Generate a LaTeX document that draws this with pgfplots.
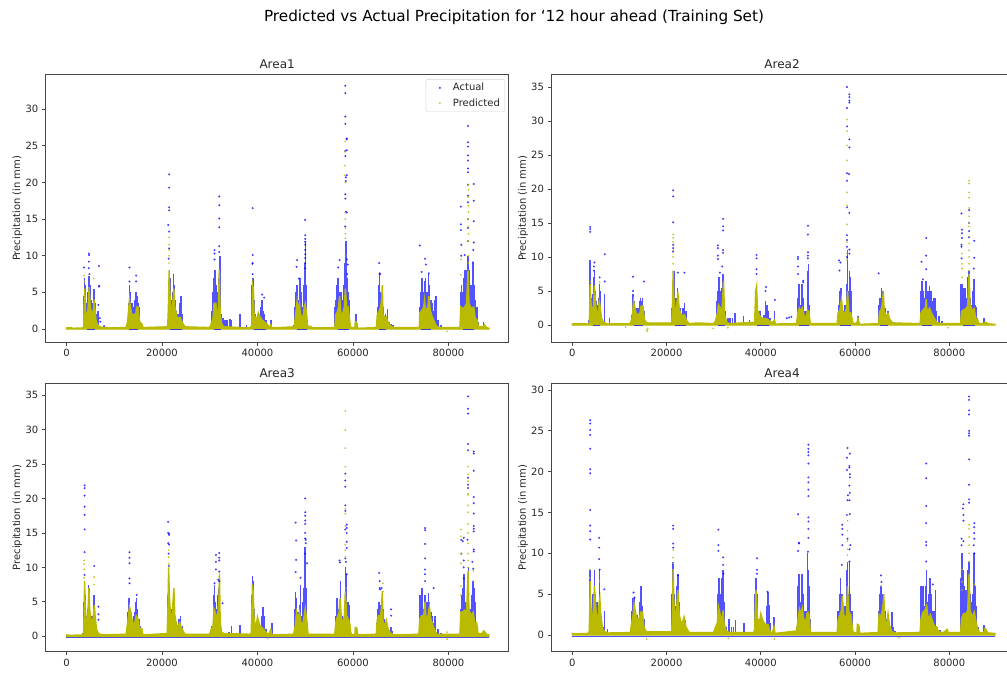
\documentclass[border=0pt]{standalone}
\usepackage{pgfplots}
\pgfplotsset{compat=1.18}
\usepackage{fontspec}
\setmainfont{DejaVu Sans}
\definecolor{predc}{HTML}{BABA00}
\definecolor{inkc}{HTML}{262626}
\pgfplotsset{
  panel/.style={
    scale only axis, width=#1, height=268pt, anchor=south west,
    axis line style={draw=inkc!85, line width=1pt},
    tick style={draw=inkc!85, line width=.8pt},
    major tick length=3.5pt,
    xtick pos=bottom, ytick pos=left, tick align=outside,
    xtick={0,20000,40000,60000,80000},
    scaled ticks=false,
    /pgf/number format/.cd, 1000 sep={}, assume math mode=true, /pgfplots/.cd,
    tick label style={font=\fontsize{10}{12}\selectfont, text=inkc},
    ylabel={Precipitation (in mm)},
    every axis y label/.style={at={(axis description cs:-0.0604,0.5)},rotate=90,anchor=center,font=\fontsize{10}{12}\selectfont,text=inkc},
    title style={at={(axis description cs:0.5,1)},anchor=south,yshift=-4pt,font=\fontsize{12}{14}\selectfont,text=inkc},
    unbounded coords=jump,
    clip=true,
    legend image code/.code={\path[draw=none,fill=none] (0,-2pt) rectangle (22pt,2pt); \path[##1,draw=none] plot coordinates {(11pt,0)};},
  },
  act/.style={color=blue, only marks, mark=*, mark size=.85pt, mark options={draw=none, fill=blue, opacity=.6}},
  pre/.style={color=predc, only marks, mark=*, mark size=.7pt, mark options={draw=none, fill=predc, opacity=.7}},
  dense/.style={color=blue, ycomb, no markers, draw=blue, line width=1.6pt, opacity=.68, forget plot},
  env/.style={color=predc, no markers, draw=predc, fill=predc, line width=1.4pt, forget plot},
}
\newcommand{\basesegs}{\addplot[color=blue, opacity=.7, no markers, line width=.7pt, forget plot] coordinates {(4300,-.1)(5900,-.1)(6000,nan)(13000,-.1)(15000,-.1)(15100,nan)(21700,-.1)(24200,-.1)(24300,nan)(30900,-.1)(32300,-.1)(32400,nan)(39200,-.1)(41800,-.1)(41900,nan)(48200,-.1)(50300,-.1)(50400,nan)(56800,-.1)(59200,-.1)(59300,nan)(65400,-.1)(67000,-.1)(67100,nan)(74200,-.1)(76300,-.1)(76400,nan)(83000,-.1)(85400,-.1)};}
\begin{document}
\begin{tikzpicture}[x=1pt,y=1pt]
\node[font=\fontsize{15.25}{18}\selectfont, text=black] at (514,655.5) {Predicted vs Actual Precipitation for `12 hour ahead (Training Set)};
% ---------- Area1
\begin{axis}[panel=463.7pt, at={(45.3pt,330.7pt)}, title={Area1}, xmin=-4430, xmax=92680, ymin=-1.81, ymax=34.77,
  legend cell align=left,
  legend style={at={(axis description cs:0.9915,0.982)},anchor=north east,draw=black!18,rounded corners=2pt,font=\fontsize{10}{12}\selectfont,text=inkc,fill=white,fill opacity=.85,text opacity=1,row sep=2pt,inner xsep=3pt,inner ysep=2pt}]
\addplot[dense] coordinates {(3700,4.5)(3800,7)(3900,6)(4000,5)(4100,3)(4300,3.5)(4500,5)(4700,7.3)(4800,7)(4900,6)(5000,5)(5200,4)(5400,3)(5600,3.5)(5800,5.5)(6000,3.5)(6200,2)(6600,2.5)
(13000,3.5)(13200,6)(13400,5)(13600,3.5)(13800,3.5)(14000,3)(14200,3)(14400,4)(14600,5)(14800,4.5)(15000,3.5)(15200,3)
(21400,6)(21600,8)(21800,7)(22000,4)(22200,5)(22400,7.5)(22600,6)(22800,4)(23000,2.5)(23400,2)(23800,3.5)(24000,4.5)(24200,2)
(30500,2.5)(30700,5)(30900,7)(31100,8)(31300,6)(31500,5)(31700,5)(31900,7)(32100,10)(32300,4)(32500,2)(32800,1.5)(33200,1.3)(33600,1.2)(34200,1.4)(34600,1.2)(36300,2)(37700,.6)
(38900,6)(39100,7)(39300,4)(39600,2)(40000,2)(40400,1.5)(40800,3)(41000,4)(41200,2.5)(41500,2)(41800,1.3)(42800,1.3)
(47600,.6)(47900,3)(48100,5)(48300,6)(48500,4)(48700,4)(48900,7)(49100,5)(49300,3)(49500,3)(49700,6)(49900,9)(50100,12)(50300,6)
(56300,3)(56500,4)(56700,6)(56900,7)(57100,5)(57300,5)(57500,5)(57700,3)(57900,4)(58100,6)(58300,9)(58500,12)(58700,7)(58900,5)(59100,5)(59300,4)(60600,2)
(65200,3)(65400,6)(65600,7.5)(65800,5)(66000,4)(66200,5.5)(66400,3)(66800,2)(67200,2.8)(67600,1)(68000,.7)(68400,.6)
(74000,3)(74200,5)(74400,7)(74600,4)(74800,5)(75000,6.5)(75200,7)(75400,5)(75600,5)(75800,7.5)(76000,6)(76200,4)(76400,4)(76600,3.5)(76800,2.5)(77000,2.5)(77200,4)(77400,4.5)(77800,1.3)(78500,.5)
(82500,5)(82700,6)(82900,5)(83100,4)(83300,7)(83500,8)(83700,6)(83900,8)(84100,10)(84300,8)(84500,6)(84700,5)(84900,6)(85100,9)(85300,6)(85500,4)(85700,4)(86000,3)(86300,1)(87300,1)};
\addplot[act] coordinates {(3700,8.4)(4700,10.3)(4750,10.1)(4700,9.2)(4650,8.3)(4800,7.5)(6800,8.6)(6900,5.9)(6800,5.8)(6700,3.3)(7000,1.5)(7100,1)(7900,.4)
(13200,8.4)(13200,6.5)(14600,7.3)(14600,6.5)
(21300,14.2)(21500,19.3)(21500,21.1)(21500,16.6)(21500,16.2)(21500,13.3)(21400,9.6)(21500,11)
(31000,10.8)(31000,10.3)(31000,9.5)(32000,18.1)(32000,16.9)(32000,15.1)(32000,13.9)(32000,11.3)(32000,10.5)
(39000,16.5)(39000,10.1)(39000,9)(38950,8.9)(39000,7.5)(41000,4.7)(41400,4.3)
(48300,9.4)(48200,8.5)(48700,6.9)(50000,14.9)(50000,12.8)(50000,12.3)(50000,11.9)(50000,11.5)(50000,10.8)(50000,10.2)(50000,9.7)(50000,9)(50000,8.3)
(57200,9.4)(56900,8.4)(58400,33.2)(58400,32.2)(58400,29)(58400,28)(58400,23.6)(58400,24.3)(58700,26)(58700,25.9)(58700,24.4)(58500,20.2)(58500,20.7)(58700,21)(58400,18.4)(58400,17.8)(58500,16)(58700,15.9)(58400,14)(58700,9.5)(58900,8.8)(58800,7.5)
(65500,9)(65600,7.6)(65700,7.5)
(74000,11.4)(74400,7.8)(75100,9.6)(75300,8.8)(75900,7.6)
(82600,16.7)(82600,14.3)(82600,13.5)(82700,11.5)(82700,10)(83400,10.1)(84100,27.7)(84100,25.5)(84100,24.9)(84100,23.7)(84100,23)(84100,21.9)(84100,21.4)(84100,19.7)(84100,18.2)(84100,17.3)(84100,15)(84100,13.8)(84100,12)(85300,19.8)(85300,17.5)(85300,14.7)(85300,11.8)(85200,10.8)(85100,9.1)};
\addlegendentry{Actual}
\addplot[env] coordinates {(0,.15)(1000,.2)(1300,.1)(3400,.15)(3600,.3)(3700,3)(3800,5.5)(3900,4.5)(4000,2.5)(4200,1.5)(4400,2)(4600,3.5)(4750,5.7)(4850,4.5)(5000,3)(5300,2)(5600,2.5)(5800,4)(5950,2.8)(6200,1.2)(6500,.6)(7000,.3)(8000,.15)
(12500,.2)(12800,1)(13000,2.5)(13200,4)(13400,3)(13700,2)(14500,2)(14700,3)(15000,3)(15300,1)(15800,.7)(16000,.2)
(21200,.3)(21350,3)(21500,8)(21650,5)(21900,2.5)(22200,3)(22500,5.5)(22700,3)(23200,1.5)(23800,1.6)(24200,1)(24800,.3)
(30000,.2)(30300,.7)(30700,1.5)(30900,3.5)(31300,3.5)(31500,2)(31800,2)(32000,8)(32200,2)(32500,.7)(33000,.3)(38500,.15)
(38800,.5)(39000,6)(39150,5.5)(39300,2)(39800,1.2)(40200,2.2)(40500,1.7)(41000,1.2)(42000,.7)(42500,.2)(42800,.6)(43000,.15)
(47700,.3)(48000,2)(48300,3.8)(48500,2.5)(48800,3.5)(49000,2)(49500,1.5)(49800,3)(50000,3.5)(50300,2)(50500,.3)(51000,.4)(51500,.15)
(56200,.2)(56400,2)(56700,2.3)(57000,3)(57200,4.5)(57500,2)(57800,2)(58200,3)(58400,5.5)(58700,3)(59000,3)(59300,1.2)(59500,.2)(60400,.2)(60500,1)(60800,.9)(61000,.1)
(64900,.2)(65100,2)(65400,2.3)(65800,3)(66000,4)(66150,6)(66300,2)(66700,1.5)(67000,1.6)(67300,1)(67800,.5)(68500,.2)
(73900,.2)(74000,2.2)(74400,2.5)(74800,3)(75000,4)(75200,2.5)(75700,3)(75900,4.5)(76200,2.5)(76700,1.5)(77200,.8)(77600,.3)(78500,.2)
(82400,.2)(82600,3)(82900,2.8)(83400,3)(83800,3.5)(84100,8)(84300,3.5)(84800,2.8)(85300,3)(85600,1.5)(86000,1.2)(86300,.3)(87300,.3)(87500,.6)(88000,.2)(88500,.1)} \closedcycle;
\basesegs
\addplot[pre] coordinates {(3700,7.3)(3800,6.5)(5700,6.9)(21500,12.5)(21500,11.5)(21500,10.8)(21500,10)(21500,9)(32000,8)(58400,25.6)(58300,24.2)(58300,22.3)(58300,21)(58400,20)(58400,15.9)(58400,15)(58400,13.8)(58400,13)(58400,12.4)(58400,10)(84200,19.7)(84200,19)(84200,18)(84200,16.8)(84200,16)(84200,15)(84200,14)(84200,13)(84200,12)(84200,10)(84200,9)(82600,9.5)(82600,7.4)(79700,-.3)};
\addlegendentry{Predicted}
\end{axis}
% ---------- Area2
\begin{axis}[panel=462pt, at={(551pt,330.7pt)}, title={Area2}, xmin=-4520, xmax=93520, ymin=-2.54, ymax=36.86, ytick={0,5,10,15,20,25,30,35}]
\addplot[dense] coordinates {(3600,.8)(3700,4)(3800,9.5)(3900,7)(4000,4)(4200,3.5)(4400,4.5)(4600,7)(4700,8)(4800,5)(5000,3.5)(5300,3)(5600,4)(5800,6)(5900,5)(6200,1)(6800,4.5)(7900,1)
(12700,1.5)(12900,4.5)(13100,3.5)(13300,2.5)(13600,2.5)(14000,2.5)(14300,3.5)(14500,4)(14700,3.5)(14900,4)(15200,2)
(21200,2.5)(21400,6)(21600,8)(21800,4)(22100,4)(22300,5.5)(22500,4)(23000,2.5)(23500,2.5)(23800,3.3)(24100,2)
(30700,3.5)(30900,5)(31100,7)(31300,5)(31500,4)(31700,5.5)(31900,7.5)(32100,7.5)(32400,2)(33000,1)(33500,1)(34000,1)(34500,1.8)(36300,1.3)(37600,.8)(38200,.3)
(38900,5)(39100,6)(39300,3)(39800,2)(40300,1)(40700,1.5)(41000,3.5)(41300,3)(41600,2)(42000,1)(42900,2)
(47800,4)(48000,6)(48200,6)(48400,3)(48700,6)(48900,4)(49200,2)(49600,2)(49900,8)(50100,9)(50300,3)
(56500,3)(56800,5)(57000,5.5)(57300,3)(57600,2)(57900,3)(58200,6)(58400,11)(58600,5)(58800,8)(59000,7)(59200,5)(60600,1.3)
(65000,3)(65300,4)(65600,5.5)(65800,5)(66000,3.5)(66400,2.5)(67000,2)(67200,1.2)(67800,.5)(68400,.4)
(74000,5)(74200,6.5)(74400,5)(74700,4)(75000,6.5)(75200,5)(75500,5)(75800,5.8)(76100,5)(76400,3.5)(76700,4)(77000,4)(77300,2)(77800,1.3)(78500,.6)
(82500,6)(82700,6)(82900,5)(83100,5.5)(83300,5.5)(83600,4)(84000,7)(84200,8)(84500,4)(84800,3)(85000,5)(85200,6.8)(85400,3)(85700,2.7)(86000,1)(87300,1)};
\addplot[act] coordinates {(3800,14.4)(3800,14.1)(3800,13.7)(4700,9.2)(4600,8.6)(4600,8)(5800,7)(6900,10.4)(6900,6.4)
(12900,7.1)(12900,5)(15200,6.4)(21400,19.8)(21400,18.9)(21400,15.1)(21400,11.8)(21400,11.3)(21400,10.8)(22400,7.7)(23800,7.7)
(30900,11.7)(30900,11.3)(30900,10.2)(30900,9.7)(32000,15.6)(32000,14.5)(32000,13.9)(32000,11)(32000,10.6)(31300,7.7)(31800,8.6)
(39100,10.3)(39100,9.8)(39100,8.2)(39100,7.5)(41100,5.6)(41000,5)(43000,3.7)(45500,1)(46000,1.1)(46500,1.2)
(47900,10)(47900,9.7)(47900,8.6)(47900,7.5)(50000,14.6)(50000,13.3)(50000,10.7)(50000,10.2)(50000,9.8)(49000,6.3)(49000,6.5)
(56600,9.5)(56900,9.2)(56700,8)(58300,35)(58300,31.9)(58300,29.2)(58800,33.9)(58800,33.5)(58800,33)(58800,32.7)(58800,27.3)(58800,26.1)(58300,22.3)(58700,22.2)(58300,21.2)(58300,17.3)(58800,16.5)(58300,13.2)(58300,12.5)(58300,11.5)(58800,11.1)(58800,10.5)(58300,10)
(65000,7.6)(75100,12.8)(75100,10.2)(74100,9.3)(75100,8.2)(74400,6.7)
(82600,16.4)(82700,14)(82700,13.5)(82700,12.8)(82600,11.8)(82600,11.5)(84200,16.9)(84200,15)(84200,13.8)(84200,12.9)(85300,12.4)(85300,9.9)(82600,9.8)(85200,8.3)};
\addplot[env] coordinates {(0,.15)(1000,.2)(3400,.15)(3600,.3)(3700,2.5)(3800,6)(3900,4)(4100,2)(4300,1.8)(4500,3)(4700,5.7)(4850,4)(5100,2)(5500,2)(5700,3.5)(5850,3)(6200,1)(6600,.4)(7500,.15)
(12300,.2)(12600,.8)(12800,1.8)(13000,3.5)(13300,2.5)(13600,1.6)(14300,1.6)(14600,2.8)(15000,2.8)(15300,.8)(15800,.3)
(21100,.3)(21250,3)(21400,8)(21550,4)(21800,2.3)(22100,2.5)(22400,4.8)(22700,2.3)(23200,1.4)(23800,1.5)(24200,.7)(24800,.2)
(26700,.3)(30000,.2)(30400,.6)(30800,1.8)(31000,3)(31400,2.5)(31700,1.8)(31950,4.5)(32100,6.5)(32300,1.5)(32700,.5)(33200,.2)
(38700,.4)(38900,5)(39100,5.7)(39300,2.2)(39800,1.3)(40300,1)(41000,1)(41800,.7)(42400,.3)(42900,.7)(43100,.15)
(47600,.2)(47900,2)(48200,2.5)(48500,2)(48800,2.5)(49200,1.4)(49600,1)(49900,2.2)(50200,2)(50500,.2)
(56200,.2)(56400,1.8)(56800,2.2)(57100,3.8)(57400,2)(57700,1.5)(58200,2.5)(58400,5)(58700,1.8)(59100,1.8)(59400,.8)(59600,.2)(60400,.3)(60600,1)(60800,.5)(61000,.1)
(65000,.2)(65200,2)(65500,2.2)(65800,3.2)(66000,5)(66200,2)(66600,1.3)(67000,1.7)(67400,.8)(68000,.3)
(73800,.2)(74000,1.8)(74500,2.3)(74900,2.5)(75100,3.8)(75300,1.8)(75800,2.5)(76200,1.8)(76800,1)(77300,.4)(78000,.2)
(82400,.2)(82600,2)(83000,2.2)(83500,2.4)(83900,2.8)(84200,7.5)(84400,3)(84900,2.2)(85300,2.4)(85600,1)(86000,.8)(86300,.2)(87300,.2)(87600,.4)(88500,.15)(89700,.1)} \closedcycle;
\basesegs
\addplot[pre] coordinates {(3800,6.4)(4700,5.7)(5800,6.3)(21400,13.3)(21400,12.8)(21400,12.2)(21400,11)(21400,10)(21400,9)(58300,30.2)(58300,28.5)(58300,26.4)(58300,24.2)(58300,19.5)(58300,17.6)(58300,14.8)(58300,12.2)(58300,10.5)(58300,9.6)
(84200,21.2)(84200,20.8)(84200,19.5)(84200,18.7)(84200,17.2)(84200,16)(84200,15)(84200,14.5)(84200,13)(84200,12)(84200,11)(84200,10)(84200,9)(82700,10.5)(82700,9)(82700,8.3)(82700,7)(84200,8)(15800,-.7)(15900,-.9)(29900,-.5)(79700,-.4)(16000,-.5)(11300,-.3)(33000,-.4)};
\end{axis}
% ---------- Area3
\begin{axis}[panel=463.7pt, at={(45.3pt,21.3pt)}, title={Area3}, xmin=-4430, xmax=92680, ymin=-2.23, ymax=36.64, ytick={0,5,10,15,20,25,30,35}]
\addplot[color=blue, opacity=.75, no markers, line width=.9pt, forget plot] coordinates {(0,-.15)(88500,-.15)};
\addplot[dense] coordinates {(3500,.5)(3600,1)(3700,5)(3800,7)(3900,6)(4100,3)(4400,4)(4600,7.5)(4700,7)(4900,3.5)(5200,3)(5500,3)(5800,6)(6000,3)(6400,.8)
(12900,3.5)(13100,5.5)(13300,4)(13600,2.5)(14000,3)(14300,3.5)(14500,5)(14700,5.5)(14900,4)(15300,2.5)(15500,1.5)
(21200,6)(21400,9)(21600,7)(21900,4)(22100,4)(22400,6.5)(22600,5)(23000,2)(23600,2.5)(23900,3)(24300,1.5)
(30000,.5)(30400,1.5)(30800,6)(31000,7.5)(31200,5)(31500,4)(31800,6)(32000,7)(32200,3)(32500,1)(33000,.5)(34000,.6)(34600,1.5)(36300,1.7)
(38800,6)(39000,8.7)(39100,8)(39300,4)(39700,1.5)(40000,2)(40400,1.5)(40800,1.5)(41000,3)(41200,4.3)(41400,3)(41800,1)(43000,2)
(47800,4)(48000,6.5)(48200,5.5)(48500,3.5)(48800,4.5)(49000,7.5)(49300,3)(49600,5)(49800,7)(50000,13)(50100,11)(50300,7)(50500,2)
(56400,3)(56700,5.5)(56900,4)(57200,4)(57400,8)(57700,3)(58200,5)(58400,10)(58600,9)(58800,5)(59000,5)(59200,4.5)
(65000,2)(65300,4)(65500,5)(65700,4.5)(66000,3)(66300,4)(66600,2.5)(67000,2)(67200,1.5)(68000,1.3)(68200,.8)
(74000,6)(74200,6)(74400,7)(74600,4)(74900,4)(75100,6)(75300,5)(75600,5)(75800,6.3)(76000,5)(76300,3.5)(76600,3)(76900,2)(77200,3)(77800,1)(78500,.5)
(82500,4)(82800,6)(83000,7)(83200,9)(83400,6)(83600,5)(84000,6)(84200,10)(84400,4)(84700,4)(84900,6)(85100,8)(85300,7)(85500,5)(85700,2.7)(86000,1)(87500,.8)};
\addplot[act] coordinates {(3800,21.9)(3800,21.5)(3800,20.4)(3800,18.8)(3800,17.6)(3800,15.5)(3800,12.2)(3800,8.9)(5800,10.2)(6700,4.3)(6700,3.2)(6700,2.4)
(13200,12.2)(13200,11.4)(13200,10.6)(13200,8.4)(13200,7.7)(14700,6)
(21300,16.6)(21300,15)(21500,14.9)(21500,14.7)(21300,13.5)(21500,13.3)(21400,12)(21500,10.2)
(31000,7.7)(31300,11.8)(31300,10.8)(31300,9.7)(32000,12.1)(32000,11.4)(32000,11)(32000,9.4)(31800,8.2)(32000,8)(32700,4.8)
(48000,16.5)(48100,13.9)(48100,11.1)(48000,9.3)(49000,8.5)(50000,20)(50000,18)(50000,17.5)(50000,16.8)(50000,16.3)(50000,15)(50000,14.2)(50100,14)(50100,13.5)(50400,10.6)(50000,12)
(57200,11)(57300,10.7)(58400,23.6)(58400,22.6)(58400,21.7)(58400,19)(58400,18.2)(58400,15.5)(58700,16.2)(58700,15.7)(58700,15)(58700,13.7)(58700,12.8)(58400,11.3)(58500,10.8)(58700,9)
(65500,9.2)(65600,8)(65600,7)(66000,7)(65700,6.8)(68000,3.9)(68000,3)
(75100,15.7)(75100,15.4)(75100,13.4)(75100,11.3)(75100,9.7)(75100,9)(75100,8)(76900,7)
(84100,34.8)(84100,33)(84100,32.3)(84100,27.9)(84100,27)(85300,26.8)(85300,26.5)(85300,24)(84100,23)(84100,22)(84100,21.5)(85300,20.2)(85300,19.3)(85300,17.8)(85300,16)(85300,15.6)(85300,15.2)(83200,14.3)(82700,14)(83000,13.8)(84000,14)(85300,12.6)(85300,12.3)(83200,11)(83200,10)(82700,12)(85000,10.8)(85200,9.8)(83200,8.4)};
\addplot[env] coordinates {(0,.2)(1000,.15)(3400,.2)(3600,.5)(3700,3.5)(3800,8)(3900,5)(4100,2)(4300,2)(4500,3.5)(4700,7)(4850,4)(5100,2.5)(5500,2.3)(5700,3.5)(5850,4.5)(6000,3)(6300,1)(6700,.4)(7500,.2)
(12500,.3)(12800,2)(13000,3)(13200,4.3)(13500,3.5)(13800,2)(14300,2)(14600,3)(15000,2.5)(15300,1.2)(15800,1.1)(16000,.2)
(21100,.4)(21250,4)(21400,10)(21550,6)(21800,3)(22100,2.8)(22500,7)(22700,3)(23200,1.2)(23700,2)(24100,1.2)(24800,.3)
(30000,.3)(30300,1)(30700,1.5)(30900,4)(31300,3.2)(31600,2.5)(31900,5)(32050,9)(32200,2)(32500,.6)(33000,.4)(38500,.3)
(38700,.5)(38950,7.5)(39100,6.5)(39300,2.5)(39700,1.2)(40000,2.8)(40400,1.7)(40900,1.3)(41800,.6)(42300,.2)(42800,1)(43000,.2)
(47600,.3)(47900,1.5)(48200,3.5)(48500,2.5)(48800,3.5)(49100,2)(49500,1.8)(49800,3)(50000,4)(50300,2.5)(50600,.3)
(56200,.3)(56400,2)(56800,3)(57100,3.5)(57300,5.5)(57600,2.5)(57900,2)(58200,3)(58400,6.5)(58700,3)(59000,2.5)(59300,2)(59600,.3)(60400,.2)(60500,1.3)(60800,1.2)(61000,.2)
(64900,.3)(65100,2.5)(65400,3)(65800,3)(66000,4.5)(66150,6.5)(66300,2.2)(66700,1.5)(67000,2.3)(67300,1.2)(67800,.5)(68500,.2)
(73800,.3)(74000,2.5)(74400,3)(74800,3)(75100,5)(75300,2.5)(75700,3)(76000,4.3)(76300,2.5)(76800,1.5)(77300,.6)(77700,.3)(78500,.3)
(82400,.3)(82600,3.5)(82900,3.5)(83400,3.8)(83800,3.3)(84100,9.5)(84300,3.8)(84800,3)(85200,3.5)(85500,1.8)(85900,2)(86200,.4)(87000,.4)(87400,.8)(88000,.3)(88500,.2)} \closedcycle;
\addplot[pre] coordinates {(3700,11)(3700,10.5)(3700,9.7)(3700,8.5)(5800,8.6)(5800,7.5)(21400,12.5)(21400,11.5)(21400,10.5)(32000,9.2)(58400,32.7)(58400,29.9)(58400,27.3)(58400,24.6)(58400,18.5)(58400,17.8)(58400,16)(58400,13.3)(58400,12.5)(58400,11.5)(58500,7)(66300,7.7)(66300,6.5)(84100,24.6)(84100,23.5)(84100,22.5)(84100,20.7)(84100,20.5)(84100,19)(84100,18)(84100,16.3)(84100,15)(84100,13.5)(84100,12)(84100,11)(84100,10)(84100,9)(82600,15.5)(82600,14.5)(82600,12)(82600,10.6)(82600,7.3)(82600,6)(79700,-.4)(85200,9.5)(85300,8)(42100,-.3)(79700,.6)};
\end{axis}
% ---------- Area4
\begin{axis}[panel=462pt, at={(551pt,21.3pt)}, title={Area4}, xmin=-4520, xmax=93520, ymin=-2.04, ymax=30.77, ytick={0,5,10,15,20,25,30}]
\addplot[color=blue!70, no markers, line width=1.2pt, forget plot] coordinates {(0,-.15)(89700,-.15)};
\addplot[dense] coordinates {(3700,5)(3800,8)(3900,5)(4100,3)(4400,5)(4700,8)(4900,5)(5200,4)(5500,3)(5800,8)(6000,4)(6500,1)(6800,3)(7500,.7)
(12700,3)(12900,4.5)(13100,4.5)(13300,3)(13700,2.5)(14100,2)(14400,4)(14600,6)(14800,3.5)(15200,2)
(21200,5)(21400,9)(21600,5)(21900,3.5)(22200,6)(22400,7.5)(22600,4)(23000,2)(23600,2.2)(23900,1.8)(24200,1)
(30900,5)(31100,7)(31300,5)(31600,4)(31800,7)(32000,8)(32200,4)(32600,1)(33200,2)(33800,1)(34200,1)(34600,1.9)(36400,1.5)
(38800,5)(39000,7)(39200,5)(39500,2)(40000,2)(40700,1)(41200,3.5)(41500,5.3)(41700,3.7)(42000,1.5)(42800,2.2)
(47700,1)(47900,6)(48100,7.5)(48300,4)(48700,7.5)(48900,5)(49200,3)(49600,3)(49900,10)(50100,8)(50300,6)(50500,2)
(56400,3)(56700,5)(56900,7)(57200,5)(57500,3)(57900,3.5)(58200,8)(58400,9)(58600,5)(58800,9)(59000,5)(59300,3)
(65100,3)(65300,5)(65500,6)(65700,5)(66000,3.5)(66300,3)(66700,2)(67100,2)(67800,2.8)(68000,1)(68500,.5)
(74000,6)(74200,6)(74400,6)(74700,3.5)(75000,6)(75200,8)(75400,4)(75700,5)(75900,7)(76200,5)(76500,3)(76900,3)(77100,5.5)(77500,1)(78000,.6)
(82500,7)(82700,10)(82900,8)(83100,6)(83300,5)(83600,5.5)(84000,8)(84200,9)(84400,5)(84700,4)(85000,5)(85300,10)(85500,6)(85700,3.5)(86100,1)(87300,1.2)};
\addplot[act] coordinates {(3800,26.3)(3800,25.9)(3800,25.1)(3800,24.5)(3800,22.8)(3800,20.3)(3800,19.8)(3800,15.3)(3800,13.4)(3800,12.7)(3800,11.7)(5700,11.9)(5700,10.7)(5700,9.3)(5800,8)(6800,5.6)
(13000,5.2)(13200,4.6)(21400,13.4)(21400,13)(21400,11.2)(21400,10.7)(22400,7.3)
(31000,12.9)(31000,11)(31000,10.3)(32000,9.5)(32000,8.6)(32100,7.5)
(39200,9.4)(39200,8)(39200,7.5)(41400,5.3)
(47900,14.8)(48100,11.3)(48100,11.2)(47900,10.3)(50100,23.3)(50100,22.8)(50100,22.4)(50100,22)(50100,21)(50100,19.3)(50100,18.7)(50100,17.8)(50100,17)(50100,14.4)(50100,13.9)(50100,13)(50100,11.9)(50000,10.2)
(57300,13.5)(57300,13)(57300,12.3)(57300,11)(57200,8.6)(58400,22.9)(58900,22.2)(58300,21.7)(58800,20.7)(58800,20.5)(58900,19.7)(58900,19.3)(58300,20.2)(58800,18.3)(58900,17.4)(58500,17.1)(58400,16.5)(58800,16.5)(58900,14.8)(58300,14.7)(58400,11.8)(59000,11)(58800,10.5)(58800,9)
(65500,7.3)(65600,6.5)
(75100,21)(75100,19.2)(75100,15.8)(75100,13.7)(75100,11.4)(75100,11)(75100,9)(76500,6.2)
(84200,29.2)(84200,28.8)(84200,27.5)(84200,27)(84200,25)(84200,24.7)(84200,24.4)(84200,21.5)(84200,18.4)(84200,16.6)(84200,16.2)(83000,16)(82900,15.5)(83000,14.7)(83000,14)(85300,13.7)(85300,13.2)(85300,12.5)(85300,11.8)(85200,11)(82600,11.8)(82600,11)(83000,11.5)(85300,10)};
\addplot[env] coordinates {(0,.2)(1000,.15)(3400,.2)(3600,.5)(3700,3)(3800,6.5)(3900,4)(4100,2)(4300,2)(4500,3.5)(4700,6)(4850,4.5)(5100,2.5)(5500,2.3)(5700,4)(5850,4.5)(6000,2.8)(6400,.8)(6900,.4)(7500,.25)
(12300,.3)(12600,1.5)(12900,2.5)(13100,3.8)(13400,2.8)(13700,2)(14200,2)(14500,2.8)(14900,2.8)(15200,1)(15700,.4)
(21100,.4)(21250,3)(21400,8)(21550,4)(21800,2.2)(22100,3)(22400,5.5)(22700,2.5)(23200,1.2)(23700,2.2)(24100,1)(24800,.3)
(30000,.3)(30400,1)(30800,1.5)(31000,3.5)(31400,2.5)(31700,1.5)(32000,3)(32200,1.5)(32600,.6)(33200,.3)(38500,.3)
(38700,.7)(38950,5.5)(39100,4.5)(39300,2)(39700,1.5)(40000,2.6)(40400,1.8)(40900,1.3)(41500,1.3)(41900,.5)(42400,.2)(42800,1)(43000,.2)
(47600,.5)(47900,2)(48200,3.2)(48500,2.5)(48800,3.3)(49100,2)(49500,1.5)(49800,2.6)(50000,2.8)(50300,2.4)(50500,.3)
(56200,.3)(56400,1.8)(56800,2.5)(57100,3)(57300,4.8)(57600,2.5)(57900,2)(58200,2.5)(58400,6)(58700,2.8)(59100,2.5)(59300,1.5)(59600,.3)(60400,.3)(60500,1.3)(60800,1.2)(61000,.2)
(64900,.3)(65100,2.5)(65400,2.2)(65800,3)(66000,4)(66100,5)(66300,2)(66700,1.2)(67000,2.6)(67300,1.2)(67800,.4)(68500,.25)
(73800,.3)(74000,2)(74400,2.8)(74800,3)(75200,3.6)(75500,2)(76000,2.5)(76400,1.8)(76900,1)(77300,1)(77700,.4)(78800,.3)(79500,.7)(79800,.3)
(82400,.3)(82600,2)(83000,2.6)(83500,2.6)(83900,3)(84200,7.5)(84400,3)(84900,2.2)(85300,2.8)(85600,1.8)(86000,.8)(86400,.3)(87300,.3)(87600,.8)(88200,.25)(89700,.2)} \closedcycle;
\addplot[pre] coordinates {(3700,8)(3700,7)(3800,6.5)(5800,6.6)(21400,10.4)(21400,9.5)(21400,8.8)(21400,8)(58400,14.7)(58400,14)(58400,12.8)(58400,11.5)(58400,10.5)(58400,9.8)(84200,13.5)(84200,13)(84200,12)(84200,11)(84200,10)(84200,9)(82700,8)(82700,6.5)(82700,5.5)(85300,6.2)(65600,6)(15800,-.5)(42900,-.5)(33100,-.4)(69300,-.3)};
\end{axis}
\pgfresetboundingbox
\path[use as bounding box] (0,0) rectangle (1007pt,673pt);
\end{tikzpicture}
\end{document}
